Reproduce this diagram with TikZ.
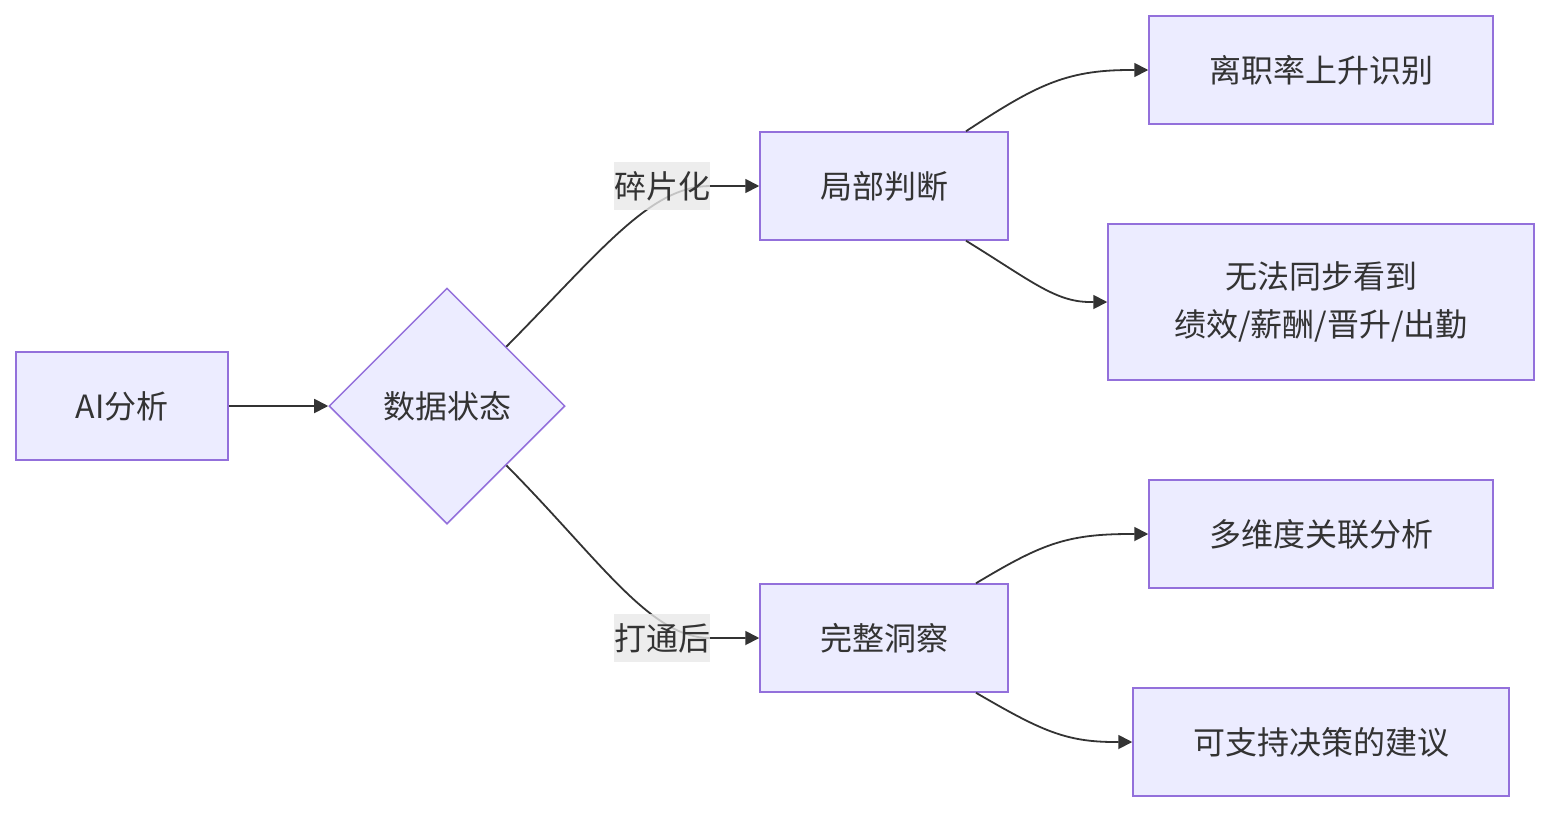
\documentclass[tikz,border=0pt]{standalone}
\usepackage{fontspec}
\setmainfont{Noto Sans CJK SC}
\usetikzlibrary{arrows.meta,shapes.geometric,calc}
\definecolor{nodefill}{HTML}{ECECFF}
\definecolor{nodeline}{HTML}{9370DB}
\definecolor{edgecol}{HTML}{333333}
\definecolor{lblbg}{HTML}{E8E8E8}
\tikzset{
  box/.style={draw=nodeline, fill=nodefill, line width=1.5pt, rectangle, inner sep=0pt, minimum height=108pt, text=edgecol, align=center, font=\fontsize{32}{48}\selectfont},
  decision/.style={draw=nodeline, fill=nodefill, line width=1.5pt, diamond, inner sep=0pt, minimum width=236pt, minimum height=236pt, text=edgecol, font=\fontsize{32}{48}\selectfont},
  conn/.style={draw=edgecol, line width=1.8pt, -{Triangle[length=14pt,width=14pt]}},
  lbl/.style={fill=lblbg, fill opacity=0.8, text opacity=1, text=edgecol, inner xsep=0pt, inner ysep=0pt, minimum width=96pt, minimum height=48pt, font=\fontsize{32}{48}\selectfont}
}
\begin{document}
\begin{tikzpicture}[x=1pt,y=-1pt]
\useasboundingbox (0,0) rectangle (1550,812);
\node[box, minimum width=212pt] (ai) at (122,406) {AI分析};
\node[decision] (d) at (447,406) {数据状态};
\node[box, minimum width=248pt] (lb) at (884,186) {局部判断};
\node[box, minimum width=248pt] (wz) at (884,638) {完整洞察};
\node[box, minimum width=344pt] (r1) at (1321,70) {离职率上升识别};
\node[box, minimum width=426pt, minimum height=156pt] (r2) at (1321,302) {无法同步看到\\绩效/薪酬/晋升/出勤};
\node[box, minimum width=344pt] (r3) at (1321,534) {多维度关联分析};
\node[box, minimum width=376pt] (r4) at (1321,742) {可支持决策的建议};

\coordinate (lbt) at ($(lb.north)+(82,0)$);
\coordinate (lbb) at ($(lb.south)+(82,0)$);
\coordinate (wzt) at ($(wz.north)+(92,0)$);
\coordinate (wzb) at ($(wz.south)+(92,0)$);

\draw[conn] (ai) -- (d);
\draw[conn] (d.north east) .. controls (600,252) and (650,186) .. (710,186) -- (lb.west);
\draw[conn] (d.south east) .. controls (600,560) and (650,638) .. (710,638) -- (wz.west);
\draw[conn] (lbt) .. controls (1035,86) and (1065,70) .. (1130,70) -- (r1.west);
\draw[conn] (lbb) .. controls (1030,280) and (1055,302) .. (1090,302) -- (r2.west);
\draw[conn] (wzt) .. controls (1040,545) and (1065,534) .. (1130,534) -- (r3.west);
\draw[conn] (wzb) .. controls (1040,730) and (1065,742) .. (1115,742) -- (r4.west);

\node[lbl] (l1) at (662,186) {碎片化};
\node[lbl] (l2) at (662,638) {打通后};
\end{tikzpicture}
\end{document}
